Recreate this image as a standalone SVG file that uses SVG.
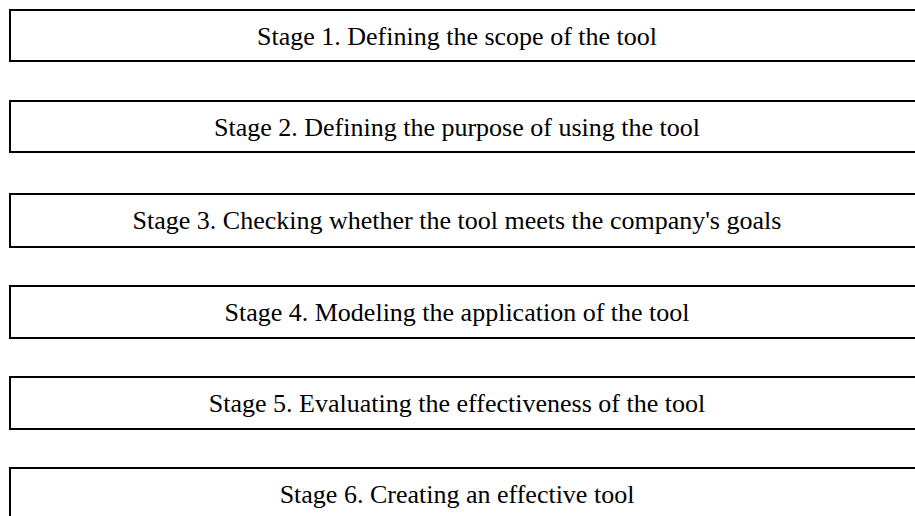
<svg xmlns="http://www.w3.org/2000/svg" width="915" height="516" viewBox="0 0 915 516">
<style>
.box{fill:#fff;stroke:#000;stroke-width:2}
.lbl{font-family:"Liberation Serif","Times New Roman",serif;font-size:26px;fill:#000;text-anchor:middle}
</style>
<rect width="915" height="516" fill="#fff"/>
<g id="stage1"><rect class="box" x="10" y="10" width="920" height="51"/><text class="lbl" x="457" y="45">Stage 1. Defining the scope of the tool</text></g>
<g id="stage2"><rect class="box" x="10" y="101" width="920" height="51"/><text class="lbl" x="457" y="136">Stage 2. Defining the purpose of using the tool</text></g>
<g id="stage3"><rect class="box" x="10" y="194" width="920" height="53"/><text class="lbl" x="457" y="229">Stage 3. Checking whether the tool meets the company's goals</text></g>
<g id="stage4"><rect class="box" x="10" y="286" width="920" height="52"/><text class="lbl" x="457" y="321">Stage 4. Modeling the application of the tool</text></g>
<g id="stage5"><rect class="box" x="10" y="377" width="920" height="52"/><text class="lbl" x="457" y="412">Stage 5. Evaluating the effectiveness of the tool</text></g>
<g id="stage6"><rect class="box" x="10" y="468" width="920" height="60"/><text class="lbl" x="457" y="503">Stage 6. Creating an effective tool</text></g>
<g id="connectors"/>
</svg>
